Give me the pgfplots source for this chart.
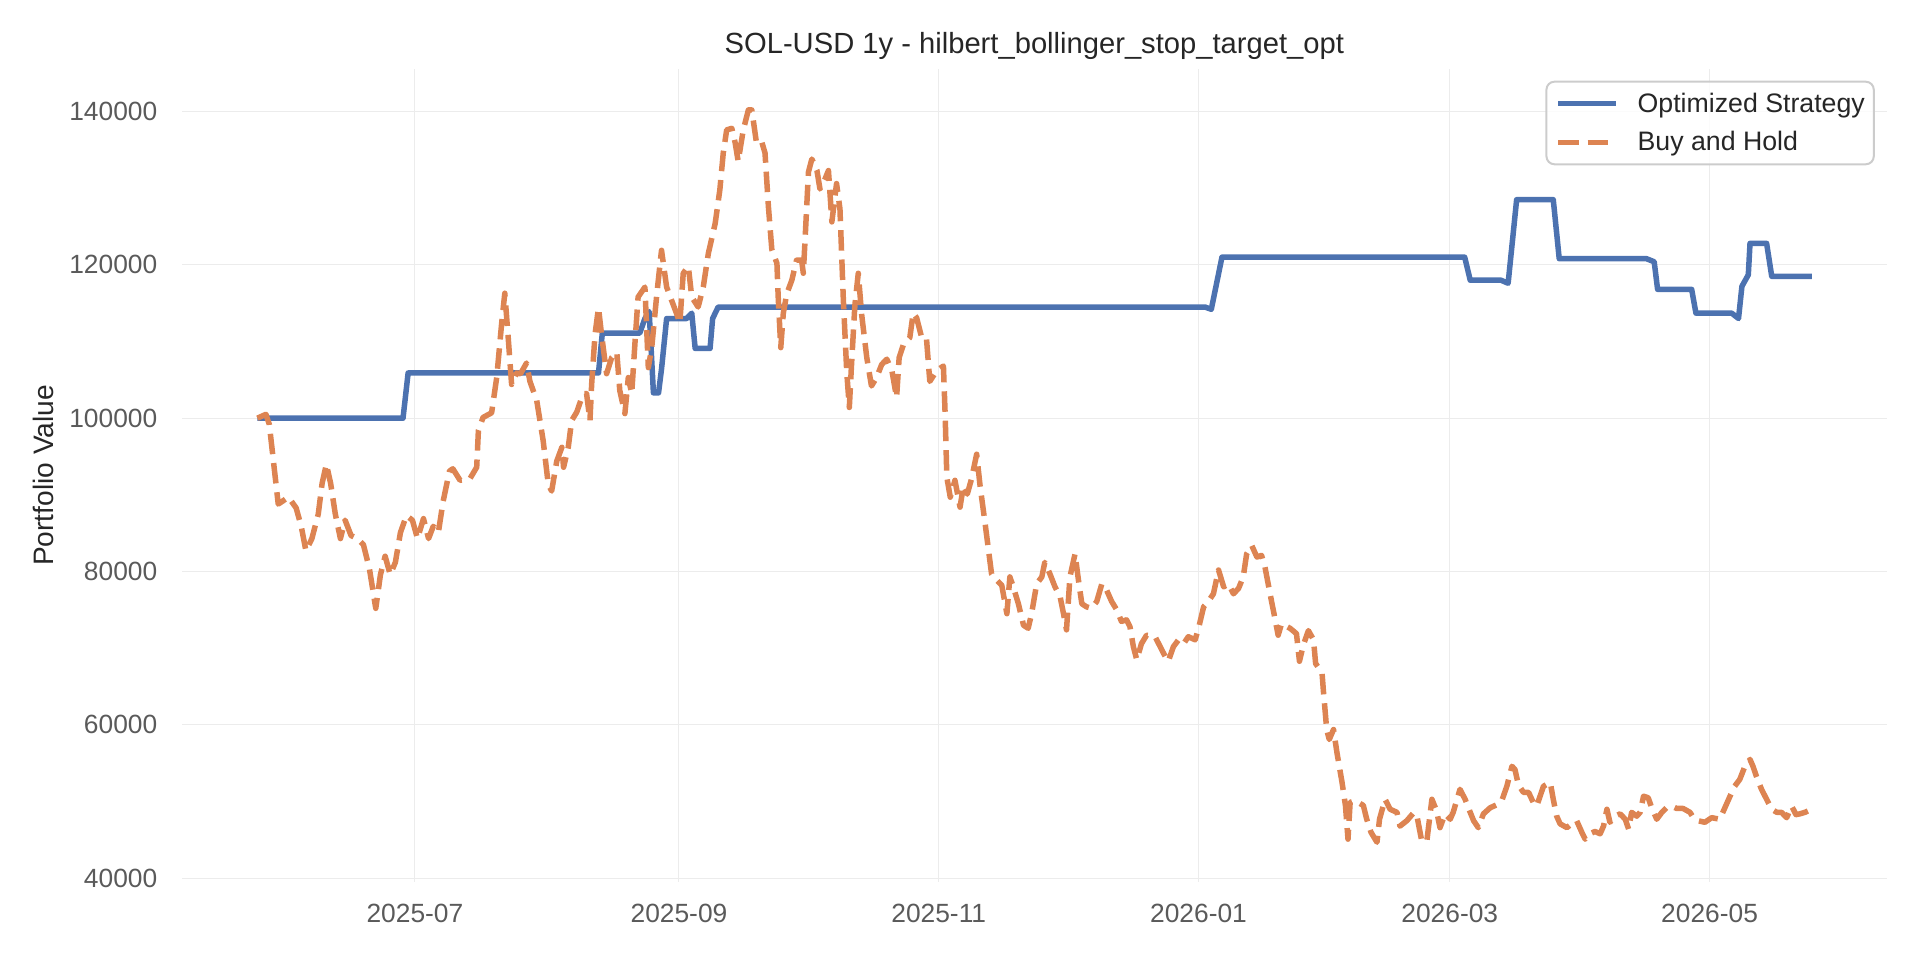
\documentclass[border=0pt]{standalone}
\usepackage{fontspec}
\setmainfont{Liberation Sans}
\usepackage{pgfplots}
\usepackage{pgfplotstable}
\pgfplotsset{compat=1.18}

\definecolor{deepblue}{RGB}{76,114,176}
\definecolor{deeporange}{RGB}{221,132,82}
\definecolor{gridgray}{RGB}{236,236,236}
\definecolor{ticktext}{RGB}{90,90,90}
\definecolor{darktext}{RGB}{38,38,38}
\definecolor{legendedge}{RGB}{204,204,204}

% day 0 = 2025-07-01
\pgfplotstableread{
day value
-37.0 100000
-2.8 100000
-1.6 105900
43.1 105900
44.0 111100
52.8 111100
54.0 113000
55.0 113900
56.0 103300
57.2 103300
57.9 106400
59.1 113000
63.8 113000
65.0 113700
65.8 109100
69.3 109100
69.9 113000
71.2 114500
185.5 114500
187.0 114200
189.5 121000
246.5 121000
247.8 118000
255.0 118000
256.7 117600
258.7 128500
267.3 128500
268.7 120800
289.2 120800
291.0 120400
291.8 116800
299.8 116800
300.8 113700
309.2 113700
310.8 113000
311.6 117200
313.1 118700
313.5 122800
317.4 122800
318.6 118500
328.0 118500
}\strategy

\pgfplotstableread{
day value
-37.0 100000
-35.0 100500
-34.2 99200
-32.1 88800
-29.7 89700
-27.9 88300
-26.7 85900
-25.6 82700
-24.2 84300
-22.7 87500
-21.8 91500
-20.8 94000
-19.8 91500
-18.7 87500
-17.5 84300
-16.4 86700
-15.0 84700
-13.5 84300
-12.1 83500
-10.7 80400
-9.2 75200
-8.1 79600
-7.0 82000
-5.8 79600
-4.6 81200
-3.4 85100
-2.0 87300
-0.6 86700
0.6 84300
2.0 86900
3.2 84300
4.3 85900
5.5 85100
6.6 89100
8.1 93100
8.9 93400
10.6 91900
12.9 92100
14.5 93600
14.9 98400
16.0 100100
18.0 100700
19.2 105300
20.4 112600
21.1 116300
21.9 110500
22.7 104400
23.9 105900
24.8 105800
26.2 107200
27.0 104800
28.6 102300
30.1 97100
31.3 91400
32.1 90500
33.3 94400
34.5 96200
34.9 93600
36.0 96200
36.8 99700
38.0 100800
39.5 103200
40.3 103200
41.1 99700
41.5 104500
42.3 111000
43.1 114400
43.8 111000
45.0 105800
46.2 107900
47.4 108600
48.1 103600
49.3 100600
50.1 105300
50.9 103200
51.7 110100
52.4 115800
54.0 117100
54.8 106600
55.6 109200
56.8 116200
57.9 121900
59.1 117100
61.4 113700
62.2 112400
63.0 118900
64.2 119800
65.0 115800
66.5 114500
67.7 117100
68.9 121500
70.5 125400
71.6 129800
72.4 134600
73.2 137600
74.4 137800
75.2 135900
75.9 133500
77.1 137600
78.3 140200
79.1 140200
80.2 135900
81.4 136100
82.2 134600
83.0 127600
83.8 122000
85.0 120200
85.3 115800
85.9 109200
86.5 113700
87.3 116200
88.5 118000
89.6 120600
90.8 120600
91.2 118900
91.6 123200
92.4 132100
93.2 133800
94.4 132300
95.1 129900
96.3 131200
97.1 132300
97.5 129000
97.9 125600
99.0 130600
99.8 127300
100.6 115400
101.4 106000
102.0 101400
102.5 106800
103.3 114700
104.1 118900
104.9 113500
106.1 107900
107.2 104200
108.4 105300
109.6 107000
110.8 107700
112.0 106200
113.1 102700
113.7 107900
114.7 109600
116.2 110500
117.0 113700
117.8 113100
119.0 110500
120.1 110500
120.9 104800
122.5 106200
124.1 106800
124.5 100500
124.9 92300
125.7 89700
126.8 91900
128.0 88400
128.8 91200
129.7 90100
130.7 92100
131.9 95300
132.7 91200
133.9 86200
135.4 79700
136.6 78900
137.8 78200
139.0 74500
139.7 79300
140.5 78000
141.7 75800
142.9 73000
144.0 72600
144.8 74500
146.0 78400
147.2 79300
147.9 81200
149.1 79700
150.3 78000
151.5 76700
152.3 74500
153.0 72400
153.8 79300
155.0 82300
155.8 78900
156.6 75800
157.7 75400
158.9 75200
160.1 76100
161.3 78400
162.4 77600
163.6 76100
164.8 75000
165.9 73500
167.1 73700
167.9 72800
168.7 70200
169.5 68500
170.6 70600
171.8 71700
173.8 71500
175.0 70200
176.2 68900
176.9 68300
178.1 70200
179.3 71100
180.5 70600
181.6 71500
183.2 71100
184.0 72600
185.2 75400
186.3 76100
187.5 77100
188.7 80200
189.9 78000
191.0 78400
192.2 77100
193.4 77800
194.5 79300
195.3 82300
196.5 83400
197.7 81900
198.8 82100
199.6 80600
200.8 77100
201.9 74000
202.7 71700
203.5 73200
205.5 72600
207.0 71900
207.7 68300
208.6 70400
209.8 72300
211.0 71100
211.5 68000
213.0 66800
213.3 64600
214.1 59400
214.7 58100
215.7 59400
216.5 56400
217.7 52500
218.5 49500
219.1 45100
219.6 49900
220.8 50100
222.7 49500
223.5 47700
224.5 46000
225.9 44700
226.5 47700
227.8 50300
229.0 49000
230.6 48600
231.3 46800
232.9 47500
234.6 48600
235.4 47800
236.4 44900
237.6 44800
238.8 50300
239.9 48800
240.7 46600
241.9 48400
243.1 47700
243.8 48600
245.4 51600
246.6 50300
247.8 48600
248.6 47500
249.7 46600
250.9 48400
252.5 49200
254.1 49600
255.2 50100
256.4 52000
257.6 54600
258.3 54200
259.1 52200
260.3 51200
261.5 51200
262.6 49900
263.4 49400
264.2 50700
265.0 52000
266.6 52500
267.3 50300
268.1 48100
268.9 47100
270.5 46600
271.6 47100
272.8 47500
274.0 46000
274.8 45100
275.9 45800
277.1 46100
278.3 45800
279.1 46800
279.9 49000
280.6 47300
281.8 48100
283.0 48400
284.2 47700
285.0 46400
285.7 48600
286.9 48100
287.7 48600
288.5 50700
289.6 50500
290.4 49200
291.6 47700
292.8 48600
293.9 49200
295.1 49400
296.3 49100
297.8 49100
299.4 48600
300.2 47900
301.3 47500
302.9 47300
304.5 47900
306.4 47700
307.6 49200
308.8 50700
309.9 52000
311.1 52900
312.3 54600
313.5 55500
314.2 54600
315.0 53300
316.2 51600
317.4 50300
318.6 49000
319.8 48600
320.9 48600
322.1 47900
323.3 49400
324.3 48300
325.2 48400
326.4 48600
328.0 49000
}\buyhold

\begin{document}
\begin{tikzpicture}
\useasboundingbox (0,0) rectangle (192mm,96mm);
\begin{axis}[
    at={(18.2mm,7.83mm)}, anchor=south west,
    scale only axis,
    width=170.47mm, height=81.24mm,
    xmin=-54.7, xmax=345.6,
    ymin=39550, ymax=145500,
    axis line style={draw=none},
    major tick style={draw=none},
    grid=major,
    grid style={gridgray, line width=0.1mm},
    xtick={0,62,123,184,243,304},
    xticklabels={2025-07,2025-09,2025-11,2026-01,2026-03,2026-05},
    ytick={40000,60000,80000,100000,120000,140000},
    scaled y ticks=false,
    /pgf/number format/.cd, fixed, 1000 sep={}, assume math mode=true,
    /pgfplots/.cd,
    tick label style={font=\fontsize{7.5}{9}\selectfont, text=ticktext, inner sep=0pt},
    yticklabel style={anchor=east, xshift=-2.4mm},
    xticklabel style={anchor=north, yshift=-2.16mm},
    title={SOL-USD 1y - hilbert\_bollinger\_stop\_target\_opt},
    every axis title shift=0pt,
    title style={at={(0.5,1)}, anchor=base, yshift=1.55mm, inner sep=0pt,
        font=\fontsize{8.3}{10}\selectfont, text=darktext},
    ylabel={Portfolio Value},
    every axis y label/.style={at={(axis description cs:-0.0751,0.5)},
        rotate=90, anchor=base, inner sep=0pt,
        font=\fontsize{8}{10}\selectfont, text=darktext},
    legend cell align=left,
    legend image code/.code={\draw[#1] (0mm,0mm) -- (5.77mm,0mm);},
    legend style={at={(0.993,0.986)}, anchor=north east,
        draw=legendedge, line width=0.2mm, rounded corners=0.8mm,
        fill=white, fill opacity=0.8, text opacity=1, draw opacity=1,
        inner xsep=0.9mm, inner ysep=0.75mm, row sep=0.96mm,
        font=\fontsize{7.6}{9}\selectfont, text=darktext,
        nodes={inner sep=0pt, text height=2.3mm, text depth=0.6mm},
        /tikz/every odd column/.append style={column sep=1.9mm}},
]
\addplot[deepblue, line width=0.55mm, line join=round] table[x=day, y=value] {\strategy};
\addlegendentry{Optimized Strategy}
\addplot[deeporange, line width=0.55mm, line join=round,
    dash pattern=on 2.05mm off 0.89mm] table[x=day, y=value] {\buyhold};
\addlegendentry{Buy and Hold}
\end{axis}
\end{tikzpicture}
\end{document}
